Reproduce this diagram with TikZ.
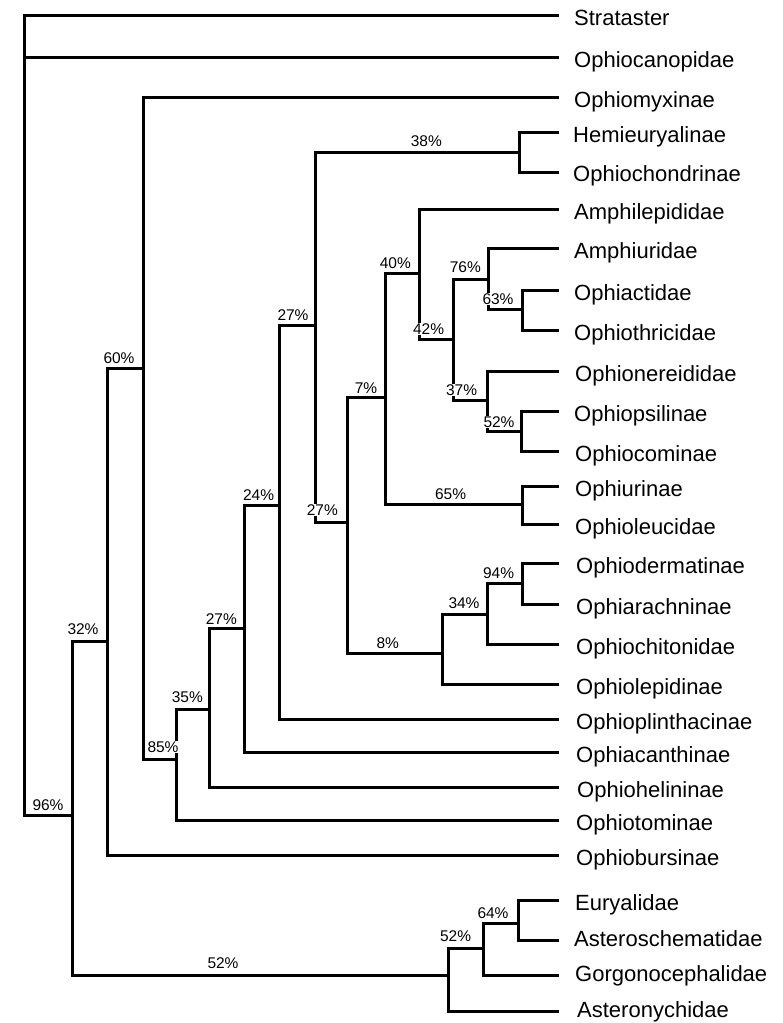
\documentclass[tikz,border=0pt]{standalone}
\usepackage{fontspec}
\setmainfont{Liberation Sans}
\begin{document}
\begin{tikzpicture}[x=1pt,y=-1pt,
  br/.style={line width=3pt,line cap=rect},
  taxon/.style={anchor=base west,inner sep=0pt,font=\fontsize{22}{26}\selectfont},
  supp/.style={anchor=base west,inner sep=0.6pt,fill=white,font=\fontsize{15.5}{18}\selectfont}]
\fill[white] (0,0) rectangle (783,1023);
\useasboundingbox (0,0) rectangle (783,1023);

% internal nodes (x of vertical bar, y where parent branch joins)
\coordinate (R)    at (24,15);
\coordinate (n96)  at (72,815);
\coordinate (n32)  at (107,641);
\coordinate (n60)  at (143,368);
\coordinate (n85)  at (176,759);
\coordinate (n35)  at (209,709);
\coordinate (n27a) at (244,628);
\coordinate (n24)  at (279,505);
\coordinate (n27b) at (315,325);
\coordinate (n38)  at (519,152);
\coordinate (n27c) at (347,522);
\coordinate (n7)   at (385,397);
\coordinate (n40)  at (419,273);
\coordinate (n42)  at (453,339);
\coordinate (n76)  at (488,279);
\coordinate (n63)  at (522,309);
\coordinate (n37)  at (487,400);
\coordinate (n52b) at (521,431);
\coordinate (n65)  at (522,504);
\coordinate (n8)   at (442,653);
\coordinate (n34)  at (487,614);
\coordinate (n94)  at (522,583);
\coordinate (n52a) at (448,975);
\coordinate (n52c) at (483,948);
\coordinate (n64)  at (518,923);

% leaves (end of branch lines)
\coordinate (strat) at (557,15);
\coordinate (ocan)  at (557,57);
\coordinate (omyx)  at (557,97);
\coordinate (hemi)  at (557,132);
\coordinate (ochon) at (557,172);
\coordinate (amphl) at (557,209);
\coordinate (amphu) at (557,248);
\coordinate (oact)  at (557,290);
\coordinate (othr)  at (557,330);
\coordinate (oner)  at (557,371);
\coordinate (opsi)  at (557,411);
\coordinate (ocom)  at (557,451);
\coordinate (ourin) at (557,486);
\coordinate (oleu)  at (557,524);
\coordinate (oderm) at (557,563);
\coordinate (oarac) at (557,604);
\coordinate (ochit) at (557,644);
\coordinate (olep)  at (557,684);
\coordinate (oplin) at (557,719);
\coordinate (oacan) at (557,752);
\coordinate (ohel)  at (557,787);
\coordinate (otom)  at (557,820);
\coordinate (obur)  at (557,855);
\coordinate (eury)  at (557,900);
\coordinate (asch)  at (557,940);
\coordinate (gorg)  at (557,975);
\coordinate (astn)  at (557,1011);

% vertical bars
\draw[br] (R |- strat) -- (R |- n96);
\draw[br] (n96 |- n32) -- (n96 |- n52a);
\draw[br] (n32 |- n60) -- (n32 |- obur);
\draw[br] (n60 |- omyx) -- (n60 |- n85);
\draw[br] (n85 |- n35) -- (n85 |- otom);
\draw[br] (n35 |- n27a) -- (n35 |- ohel);
\draw[br] (n27a |- n24) -- (n27a |- oacan);
\draw[br] (n24 |- n27b) -- (n24 |- oplin);
\draw[br] (n27b |- n38) -- (n27b |- n27c);
\draw[br] (n38 |- hemi) -- (n38 |- ochon);
\draw[br] (n27c |- n7) -- (n27c |- n8);
\draw[br] (n7 |- n40) -- (n7 |- n65);
\draw[br] (n40 |- amphl) -- (n40 |- n42);
\draw[br] (n42 |- n76) -- (n42 |- n37);
\draw[br] (n76 |- amphu) -- (n76 |- n63);
\draw[br] (n63 |- oact) -- (n63 |- othr);
\draw[br] (n37 |- oner) -- (n37 |- n52b);
\draw[br] (n52b |- opsi) -- (n52b |- ocom);
\draw[br] (n65 |- ourin) -- (n65 |- oleu);
\draw[br] (n8 |- n34) -- (n8 |- olep);
\draw[br] (n34 |- n94) -- (n34 |- ochit);
\draw[br] (n94 |- oderm) -- (n94 |- oarac);
\draw[br] (n52a |- n52c) -- (n52a |- astn);
\draw[br] (n52c |- n64) -- (n52c |- gorg);
\draw[br] (n64 |- eury) -- (n64 |- asch);

% horizontal branches
\draw[br] (R |- strat) -- (strat);
\draw[br] (R |- ocan) -- (ocan);
\draw[br] (R |- n96) -- (n96);
\draw[br] (n96 |- n32) -- (n32);
\draw[br] (n96 |- n52a) -- (n52a);
\draw[br] (n32 |- n60) -- (n60);
\draw[br] (n32 |- obur) -- (obur);
\draw[br] (n60 |- omyx) -- (omyx);
\draw[br] (n60 |- n85) -- (n85);
\draw[br] (n85 |- n35) -- (n35);
\draw[br] (n85 |- otom) -- (otom);
\draw[br] (n35 |- n27a) -- (n27a);
\draw[br] (n35 |- ohel) -- (ohel);
\draw[br] (n27a |- n24) -- (n24);
\draw[br] (n27a |- oacan) -- (oacan);
\draw[br] (n24 |- n27b) -- (n27b);
\draw[br] (n24 |- oplin) -- (oplin);
\draw[br] (n27b |- n38) -- (n38);
\draw[br] (n27b |- n27c) -- (n27c);
\draw[br] (n38 |- hemi) -- (hemi);
\draw[br] (n38 |- ochon) -- (ochon);
\draw[br] (n27c |- n7) -- (n7);
\draw[br] (n27c |- n8) -- (n8);
\draw[br] (n7 |- n40) -- (n40);
\draw[br] (n7 |- n65) -- (n65);
\draw[br] (n40 |- amphl) -- (amphl);
\draw[br] (n40 |- n42) -- (n42);
\draw[br] (n42 |- n76) -- (n76);
\draw[br] (n42 |- n37) -- (n37);
\draw[br] (n76 |- amphu) -- (amphu);
\draw[br] (n76 |- n63) -- (n63);
\draw[br] (n63 |- oact) -- (oact);
\draw[br] (n63 |- othr) -- (othr);
\draw[br] (n37 |- oner) -- (oner);
\draw[br] (n37 |- n52b) -- (n52b);
\draw[br] (n52b |- opsi) -- (opsi);
\draw[br] (n52b |- ocom) -- (ocom);
\draw[br] (n65 |- ourin) -- (ourin);
\draw[br] (n65 |- oleu) -- (oleu);
\draw[br] (n8 |- n34) -- (n34);
\draw[br] (n8 |- olep) -- (olep);
\draw[br] (n34 |- n94) -- (n94);
\draw[br] (n34 |- ochit) -- (ochit);
\draw[br] (n94 |- oderm) -- (oderm);
\draw[br] (n94 |- oarac) -- (oarac);
\draw[br] (n52a |- n52c) -- (n52c);
\draw[br] (n52a |- astn) -- (astn);
\draw[br] (n52c |- n64) -- (n64);
\draw[br] (n52c |- gorg) -- (gorg);
\draw[br] (n64 |- eury) -- (eury);
\draw[br] (n64 |- asch) -- (asch);

% taxon names
\node[taxon] (strat-t) at ([xshift=17pt,yshift=-10pt]strat) {Strataster};
\node[taxon] (ocan-t)  at ([xshift=17pt,yshift=-10pt]ocan)  {Ophiocanopidae};
\node[taxon] (omyx-t)  at ([xshift=17pt,yshift=-10pt]omyx)  {Ophiomyxinae};
\node[taxon] (hemi-t)  at ([xshift=16pt,yshift=-10pt]hemi)  {Hemieuryalinae};
\node[taxon] (ochon-t) at ([xshift=16pt,yshift=-9pt]ochon) {Ophiochondrinae};
\node[taxon] (amphl-t) at ([xshift=17pt,yshift=-10pt]amphl) {Amphilepididae};
\node[taxon] (amphu-t) at ([xshift=17pt,yshift=-10pt]amphu) {Amphiuridae};
\node[taxon] (oact-t)  at ([xshift=17pt,yshift=-10pt]oact)  {Ophiactidae};
\node[taxon] (othr-t)  at ([xshift=17pt,yshift=-10pt]othr)  {Ophiothricidae};
\node[taxon] (oner-t)  at ([xshift=18pt,yshift=-10pt]oner)  {Ophionereididae};
\node[taxon] (opsi-t)  at ([xshift=17pt,yshift=-10pt]opsi)  {Ophiopsilinae};
\node[taxon] (ocom-t)  at ([xshift=18pt,yshift=-10pt]ocom)  {Ophiocominae};
\node[taxon] (ourin-t) at ([xshift=18pt,yshift=-10pt]ourin) {Ophiurinae};
\node[taxon] (oleu-t)  at ([xshift=18pt,yshift=-10pt]oleu)  {Ophioleucidae};
\node[taxon] (oderm-t) at ([xshift=19pt,yshift=-10pt]oderm) {Ophiodermatinae};
\node[taxon] (oarac-t) at ([xshift=19pt,yshift=-10pt]oarac) {Ophiarachninae};
\node[taxon] (ochit-t) at ([xshift=19pt,yshift=-10pt]ochit) {Ophiochitonidae};
\node[taxon] (olep-t)  at ([xshift=19pt,yshift=-10pt]olep)  {Ophiolepidinae};
\node[taxon] (oplin-t) at ([xshift=19pt,yshift=-10pt]oplin) {Ophioplinthacinae};
\node[taxon] (oacan-t) at ([xshift=19pt,yshift=-10pt]oacan) {Ophiacanthinae};
\node[taxon] (ohel-t)  at ([xshift=20pt,yshift=-10pt]ohel)  {Ophiohelininae};
\node[taxon] (otom-t)  at ([xshift=19pt,yshift=-10pt]otom)  {Ophiotominae};
\node[taxon] (obur-t)  at ([xshift=19pt,yshift=-10pt]obur)  {Ophiobursinae};
\node[taxon] (eury-t)  at ([xshift=18pt,yshift=-10pt]eury)  {Euryalidae};
\node[taxon] (asch-t)  at ([xshift=17pt,yshift=-6pt]asch)  {Asteroschematidae};
\node[taxon] (gorg-t)  at ([xshift=18pt,yshift=-6.5pt]gorg)  {Gorgonocephalidae};
\node[taxon] (astn-t)  at ([xshift=20pt,yshift=-6pt]astn)  {Asteronychidae};

% support values
\node[supp] (l38)  at (410,146.7) {38\%};
\node[supp] (l40)  at (379,268)   {40\%};
\node[supp] (l76)  at (449,272.7) {76\%};
\node[supp] (l63)  at (481.7,304.3) {63\%};
\node[supp] (l42)  at (412.3,334.3) {42\%};
\node[supp] (l27b) at (276.7,320) {27\%};
\node[supp] (l60)  at (102.7,363.3) {60\%};
\node[supp] (l7)   at (354,393.3) {7\%};
\node[supp] (l37)  at (445.3,395.7) {37\%};
\node[supp] (l52b) at (482.7,427.3) {52\%};
\node[supp] (l24)  at (242.3,500) {24\%};
\node[supp] (l65)  at (434.3,499) {65\%};
\node[supp] (l27c) at (306,515) {27\%};
\node[supp] (l94)  at (482.3,578.3) {94\%};
\node[supp] (l34)  at (447.7,608.3) {34\%};
\node[supp] (l27a) at (205,624.7) {27\%};
\node[supp] (l32)  at (66.7,634.3) {32\%};
\node[supp] (l8)   at (375.7,648.3) {8\%};
\node[supp] (l35)  at (171,702.7) {35\%};
\node[supp] (l85)  at (146.7,752) {85\%};
\node[supp] (l96)  at (31.7,810) {96\%};
\node[supp] (l64)  at (476.7,918.3) {64\%};
\node[supp] (l52c) at (439.3,941.7) {52\%};
\node[supp] (l52a) at (206.7,968.3) {52\%};
\end{tikzpicture}
\end{document}
